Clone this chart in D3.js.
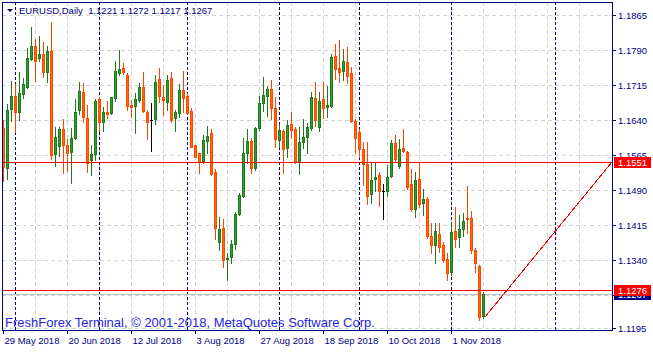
<!DOCTYPE html>
<html>
<head>
<meta charset="utf-8">
<script src="https://cdn.jsdelivr.net/npm/d3@7"></script>
<style>
  html, body { margin: 0; padding: 0; background: #fff; }
  svg { display: block; }
  text { font-family: "Liberation Sans", Arial, sans-serif; }
</style>
</head>
<body>
<svg id="chart" width="653" height="352"></svg>
<script>
// EURUSD daily, 29 May 2018 .. 13 Nov 2018 (one value per bar)
const opens = [
  1.1623, 1.1537, 1.1664, 1.1692, 1.1658, 1.1696, 1.1712, 1.1771, 1.1799, 1.1773,
  1.1783, 1.1744, 1.1788, 1.1568, 1.1585, 1.1621, 1.1587, 1.1573, 1.1601, 1.1663,
  1.1700, 1.1644, 1.1555, 1.1567, 1.1685, 1.1637, 1.1658, 1.1655, 1.1687, 1.1741,
  1.1753, 1.1737, 1.1673, 1.1671, 1.1684, 1.1711, 1.1657, 1.1640, 1.1642, 1.1728,
  1.1690, 1.1680, 1.1730, 1.1644, 1.1655, 1.1705, 1.1692, 1.1660, 1.1587, 1.1569,
  1.1551, 1.1596, 1.1612, 1.1529, 1.1379, 1.1409, 1.1342, 1.1346, 1.1374, 1.1439,
  1.1478, 1.1569, 1.1596, 1.1538, 1.1623, 1.1676, 1.1693, 1.1707, 1.1666, 1.1598,
  1.1617, 1.1581, 1.1632, 1.1621, 1.1551, 1.1593, 1.1605, 1.1623, 1.1688, 1.1625,
  1.1685, 1.1668, 1.1671, 1.1778, 1.1751, 1.1746, 1.1764, 1.1741, 1.1639, 1.1615,
  1.1578, 1.1546, 1.1481, 1.1514, 1.1523, 1.1489, 1.1489, 1.1521, 1.1591, 1.1541,
  1.1581, 1.1571, 1.1503, 1.1449, 1.1515, 1.1462, 1.1471, 1.1391, 1.1373, 1.1396,
  1.1373, 1.1343, 1.1314, 1.1403, 1.1389, 1.1407, 1.1431, 1.1430, 1.1362, 1.1328,
  1.1221
];
const highs = [
  1.1641, 1.1675, 1.1724, 1.1717, 1.1743, 1.1730, 1.1794, 1.1840, 1.1815, 1.1821,
  1.1807, 1.1799, 1.1850, 1.1626, 1.1625, 1.1643, 1.1599, 1.1623, 1.1686, 1.1723,
  1.1719, 1.1673, 1.1587, 1.1686, 1.1689, 1.1668, 1.1681, 1.1690, 1.1767, 1.1790,
  1.1763, 1.1741, 1.1683, 1.1698, 1.1720, 1.1743, 1.1663, 1.1678, 1.1737, 1.1753,
  1.1715, 1.1738, 1.1743, 1.1662, 1.1718, 1.1745, 1.1698, 1.1666, 1.1588, 1.1569,
  1.1608, 1.1628, 1.1621, 1.1535, 1.1432, 1.1429, 1.1355, 1.1383, 1.1444, 1.1484,
  1.1601, 1.1621, 1.1601, 1.1626, 1.1692, 1.1733, 1.1713, 1.1726, 1.1690, 1.1633,
  1.1621, 1.1640, 1.1658, 1.1626, 1.1625, 1.1642, 1.1635, 1.1701, 1.1722, 1.1701,
  1.1722, 1.1713, 1.1783, 1.1803, 1.1813, 1.1793, 1.1796, 1.1755, 1.1642, 1.1621,
  1.1593, 1.1593, 1.1549, 1.1549, 1.1530, 1.1503, 1.1544, 1.1598, 1.1608, 1.1599,
  1.1621, 1.1574, 1.1535, 1.1530, 1.1548, 1.1492, 1.1476, 1.1419, 1.1419, 1.1419,
  1.1380, 1.1355, 1.1421, 1.1454, 1.1437, 1.1441, 1.1499, 1.1446, 1.1366, 1.1330,
  1.1272
];
const lows = [
  1.1510, 1.1514, 1.1639, 1.1615, 1.1641, 1.1688, 1.1710, 1.1769, 1.1724, 1.1767,
  1.1732, 1.1723, 1.1558, 1.1541, 1.1563, 1.1528, 1.1532, 1.1506, 1.1599, 1.1653,
  1.1637, 1.1530, 1.1523, 1.1555, 1.1618, 1.1618, 1.1644, 1.1653, 1.1681, 1.1737,
  1.1739, 1.1663, 1.1648, 1.1612, 1.1680, 1.1658, 1.1599, 1.1574, 1.1631, 1.1680,
  1.1651, 1.1662, 1.1637, 1.1618, 1.1646, 1.1657, 1.1653, 1.1582, 1.1561, 1.1528,
  1.1549, 1.1570, 1.1523, 1.1385, 1.1362, 1.1325, 1.1298, 1.1334, 1.1364, 1.1437,
  1.1476, 1.1549, 1.1528, 1.1533, 1.1619, 1.1660, 1.1649, 1.1642, 1.1583, 1.1583,
  1.1528, 1.1562, 1.1603, 1.1549, 1.1524, 1.1580, 1.1569, 1.1619, 1.1628, 1.1616,
  1.1644, 1.1648, 1.1668, 1.1728, 1.1721, 1.1726, 1.1719, 1.1637, 1.1569, 1.1561,
  1.1501, 1.1461, 1.1462, 1.1489, 1.1456, 1.1429, 1.1478, 1.1519, 1.1553, 1.1538,
  1.1573, 1.1492, 1.1446, 1.1432, 1.1455, 1.1437, 1.1387, 1.1356, 1.1334, 1.1358,
  1.1337, 1.1298, 1.1309, 1.1369, 1.1369, 1.1391, 1.1398, 1.1356, 1.1314, 1.1212,
  1.1217
];
const closes = [
  1.1540, 1.1662, 1.1692, 1.1658, 1.1698, 1.1717, 1.1773, 1.1799, 1.1768, 1.1783,
  1.1743, 1.1789, 1.1566, 1.1605, 1.1621, 1.1587, 1.1570, 1.1601, 1.1657, 1.1703,
  1.1646, 1.1549, 1.1568, 1.1681, 1.1637, 1.1657, 1.1653, 1.1689, 1.1745, 1.1749,
  1.1743, 1.1671, 1.1669, 1.1685, 1.1711, 1.1660, 1.1637, 1.1640, 1.1722, 1.1692,
  1.1684, 1.1727, 1.1641, 1.1657, 1.1705, 1.1688, 1.1656, 1.1583, 1.1562, 1.1551,
  1.1598, 1.1606, 1.1524, 1.1409, 1.1407, 1.1341, 1.1345, 1.1375, 1.1439, 1.1480,
  1.1569, 1.1596, 1.1537, 1.1623, 1.1678, 1.1694, 1.1707, 1.1666, 1.1599, 1.1619,
  1.1578, 1.1630, 1.1619, 1.1551, 1.1593, 1.1605, 1.1625, 1.1690, 1.1640, 1.1681,
  1.1666, 1.1672, 1.1775, 1.1749, 1.1744, 1.1767, 1.1735, 1.1639, 1.1601, 1.1578,
  1.1546, 1.1478, 1.1512, 1.1519, 1.1489, 1.1489, 1.1519, 1.1591, 1.1557, 1.1578,
  1.1575, 1.1498, 1.1450, 1.1511, 1.1460, 1.1471, 1.1391, 1.1373, 1.1403, 1.1369,
  1.1341, 1.1312, 1.1401, 1.1386, 1.1407, 1.1425, 1.1429, 1.1362, 1.1335, 1.1218,
  1.1267
];

const priceTicks = [1.1865, 1.1790, 1.1715, 1.1640, 1.1565, 1.1490, 1.1415, 1.1340, 1.1265, 1.1195];
// 1.1265 sits under the bid/level tags, so only its grid line shows
const hiddenPriceLabels = [1.1265];
const dateTickBars = [0, 16, 32, 48, 64, 80, 96, 112];
const dateTickLabels = ['29 May 2018', '20 Jun 2018', '12 Jul 2018', '3 Aug 2018',
  '27 Aug 2018', '18 Sep 2018', '10 Oct 2018', '1 Nov 2018'];
const monthStartBars = [3, 24, 46, 69, 89, 112, 138];
const levelPrices = [1.1551, 1.1276];
const bidPrice = 1.1267;
const trendBars = [120.5, 152.25];
const trendPrices = [1.1219, 1.1551];
const headerText = 'EURUSD,Daily  1.1221 1.1272 1.1217 1.1267';
const watermark = 'FreshForex Terminal, \u00a9 2001-2018, MetaQuotes Software Corp.';

const navy = '#000080';
const colors = {
  grid: '#d3d3d3',
  bullFill: '#2ca02c', bullLine: '#1f7a1f',
  bearFill: '#ff6a00', bearLine: '#ff4500',
  doji: '#000000',
  level: '#ff0000',
  bid: '#c0c0c0',
  mark: '#1e1ee6',
};

const svg = d3.select('#chart');
const plot = { left: 2, top: 2, right: 612, bottom: 330 };

// bar index -> pixel column, price -> pixel row
const x = d3.scaleLinear().domain([0, 1]).range([3, 7]);
const y = d3.scaleLinear().domain([1.11905, 1.18935]).range([plot.bottom, plot.top])
  .interpolate(d3.interpolateRound);

const bars = d3.range(opens.length).map((i) => ({
  i, o: opens[i], h: highs[i], l: lows[i], c: closes[i],
}));

// grid
const grid = svg.append('g').attr('shape-rendering', 'crispEdges');
grid.selectAll('line.gh').data(priceTicks).join('line')
  .attr('class', 'gh')
  .attr('x1', plot.left).attr('x2', plot.right)
  .attr('y1', (d) => y(d) + 0.5).attr('y2', (d) => y(d) + 0.5)
  .attr('stroke', colors.grid).attr('stroke-dasharray', '4,3');
grid.selectAll('line.gv').data(d3.range(8, 152, 8)).join('line')
  .attr('class', 'gv')
  .attr('x1', (d) => x(d) + 0.5).attr('x2', (d) => x(d) + 0.5)
  .attr('y1', plot.top).attr('y2', plot.bottom)
  .attr('stroke', colors.grid).attr('stroke-dasharray', '4,3');

// period separators
grid.selectAll('line.sep').data(monthStartBars).join('line')
  .attr('class', 'sep')
  .attr('x1', (d) => x(d) + 0.5).attr('x2', (d) => x(d) + 0.5)
  .attr('y1', plot.top).attr('y2', plot.bottom)
  .attr('stroke', navy).attr('stroke-dasharray', '3,2');

// watermark
svg.append('text')
  .attr('x', 5).attr('y', 327)
  .attr('font-size', 13)
  .attr('fill', colors.mark)
  .text(watermark);

// bid line
grid.append('line')
  .attr('x1', plot.left).attr('x2', plot.right)
  .attr('y1', y(bidPrice) + 0.5).attr('y2', y(bidPrice) + 0.5)
  .attr('stroke', colors.bid);

// candles
const candles = svg.append('g').attr('shape-rendering', 'crispEdges');
const kind = (d) => (d.c > d.o ? 'bull' : d.c < d.o ? 'bear' : 'doji');
const lineColor = (d) => ({ bull: colors.bullLine, bear: colors.bearLine, doji: colors.doji })[kind(d)];

candles.selectAll('line.wick').data(bars).join('line')
  .attr('class', 'wick')
  .attr('x1', (d) => x(d.i) + 0.5).attr('x2', (d) => x(d.i) + 0.5)
  .attr('y1', (d) => y(d.h)).attr('y2', (d) => y(d.l) + 1)
  .attr('stroke', lineColor);

candles.selectAll('rect.body').data(bars.filter((d) => kind(d) !== 'doji')).join('rect')
  .attr('class', 'body')
  .attr('x', (d) => x(d.i) - 0.5)
  .attr('y', (d) => y(Math.max(d.o, d.c)) + 0.5)
  .attr('width', 2)
  .attr('height', (d) => Math.max(0, y(Math.min(d.o, d.c)) - y(Math.max(d.o, d.c))))
  .attr('fill', (d) => (kind(d) === 'bull' ? colors.bullFill : colors.bearFill))
  .attr('stroke', lineColor);

candles.selectAll('line.cross').data(bars.filter((d) => kind(d) === 'doji')).join('line')
  .attr('class', 'cross')
  .attr('x1', (d) => x(d.i) - 1).attr('x2', (d) => x(d.i) + 2)
  .attr('y1', (d) => y(d.o) + 0.5).attr('y2', (d) => y(d.o) + 0.5)
  .attr('stroke', colors.doji);

// horizontal levels and trend line
const objects = svg.append('g').attr('shape-rendering', 'crispEdges');
objects.selectAll('line.level').data(levelPrices).join('line')
  .attr('class', 'level')
  .attr('x1', plot.left).attr('x2', plot.right)
  .attr('y1', (d) => y(d) + 0.5).attr('y2', (d) => y(d) + 0.5)
  .attr('stroke', colors.level);
objects.append('line')
  .attr('x1', x(trendBars[0])).attr('y1', y(trendPrices[0]))
  .attr('x2', x(trendBars[1])).attr('y2', y(trendPrices[1]))
  .attr('stroke', colors.level);

// frame
svg.append('rect')
  .attr('x', plot.left + 0.5).attr('y', plot.top + 0.5)
  .attr('width', plot.right - plot.left).attr('height', plot.bottom - plot.top)
  .attr('fill', 'none').attr('stroke', navy)
  .attr('shape-rendering', 'crispEdges');

// price axis
const yAxis = d3.axisRight(y)
  .tickValues(priceTicks)
  .tickSize(4)
  .tickPadding(2)
  .tickFormat((d) => (hiddenPriceLabels.includes(d) ? '' : d3.format('.4f')(d)));
const gy = svg.append('g')
  .attr('transform', `translate(${plot.right},0)`)
  .attr('shape-rendering', 'crispEdges')
  .call(yAxis);
gy.select('.domain').remove();
gy.selectAll('line').attr('stroke', navy);
gy.selectAll('text').attr('fill', navy).attr('font-size', 9.5)
  .attr('font-family', '"Liberation Sans", Arial, sans-serif');

// date axis
const xAxis = d3.axisBottom(x)
  .tickValues(dateTickBars)
  .tickSize(4)
  .tickFormat((d, i) => dateTickLabels[i]);
const gx = svg.append('g')
  .attr('transform', `translate(0,${plot.bottom})`)
  .attr('shape-rendering', 'crispEdges')
  .call(xAxis);
gx.select('.domain').remove();
gx.selectAll('line').attr('stroke', navy);
gx.selectAll('text')
  .attr('fill', navy).attr('font-size', 9.5)
  .attr('font-family', '"Liberation Sans", Arial, sans-serif')
  .attr('text-anchor', 'start')
  .attr('x', 1).attr('y', 13.5).attr('dy', null);

// price tags (bid first, levels drawn over it)
const tags = [{ p: bidPrice, bg: navy }].concat(levelPrices.map((p) => ({ p, bg: colors.level })));
const tag = svg.selectAll('g.tag').data(tags).join('g')
  .attr('class', 'tag')
  .attr('transform', (d) => `translate(${plot.right + 2},${y(d.p) - 5})`);
tag.append('rect')
  .attr('width', 37).attr('height', 11)
  .attr('fill', (d) => d.bg);
tag.append('text')
  .attr('x', 4).attr('y', 9)
  .attr('font-size', 9.5)
  .attr('fill', '#ffffff')
  .text((d) => d3.format('.4f')(d.p));

// header
svg.append('path')
  .attr('d', d3.line()([[7, 9], [13, 9], [10, 12]]) + 'Z')
  .attr('fill', navy);
svg.append('text')
  .attr('x', 19).attr('y', 14)
  .attr('font-size', 9.5)
  .attr('fill', navy)
  .attr('xml:space', 'preserve')
  .style('white-space', 'pre')
  .text(headerText);
</script>
</body>
</html>
